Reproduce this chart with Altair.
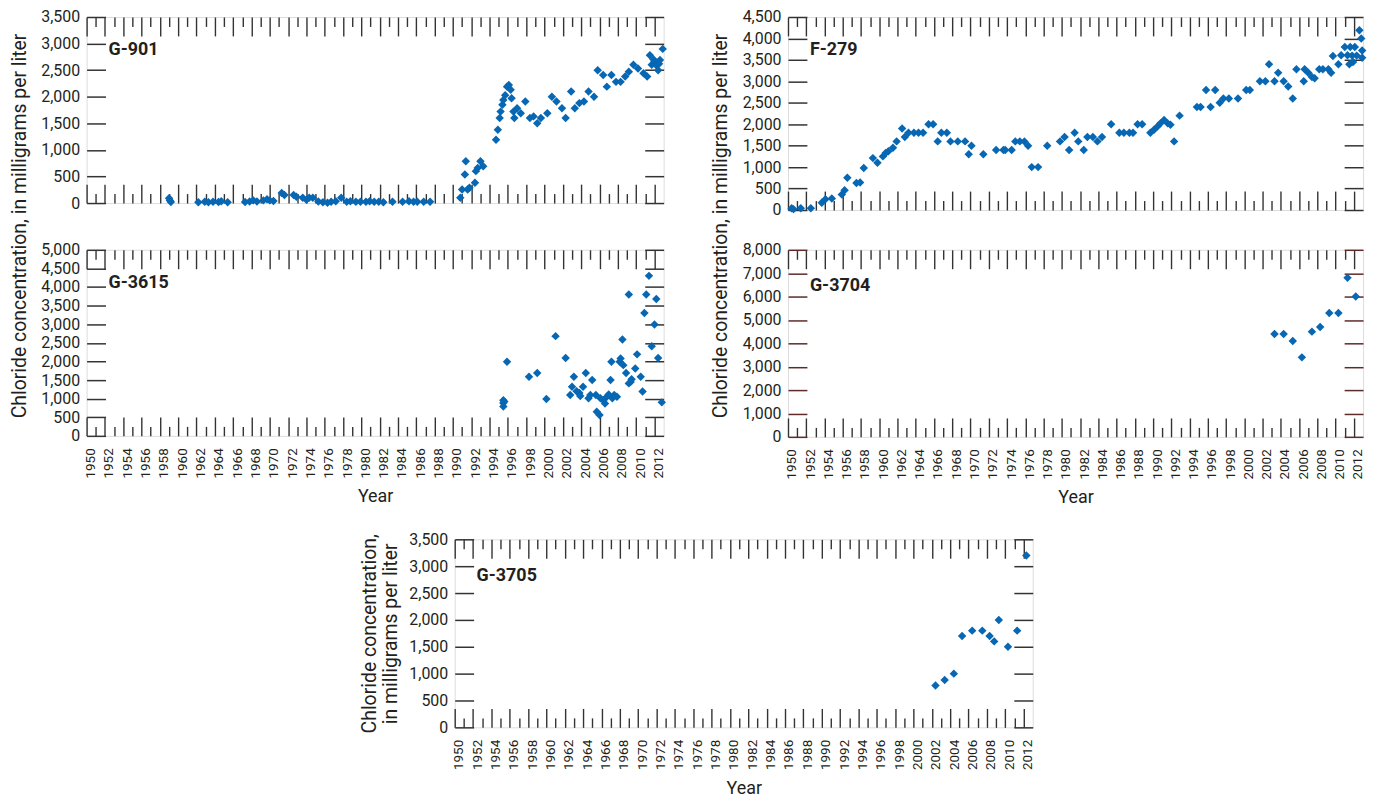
import altair as alt
import pandas as pd

# ---------------- data ----------------
g901_year = [1959.0, 1959.1, 1959.2, 1962.2, 1962.9, 1963.3, 1963.8, 1964.4, 1964.7, 1965.4,
             1967.3, 1967.8, 1968.2, 1968.6, 1969.3, 1969.7, 1970.0, 1970.4, 1971.3, 1971.6,
             1972.6, 1972.9, 1973.6, 1974.0, 1974.3, 1974.7, 1975.3, 1975.8, 1976.3, 1976.7,
             1977.2, 1977.8, 1978.4, 1978.8, 1979.4, 1979.9, 1980.5, 1980.9, 1981.4, 1981.9,
             1982.4, 1983.4, 1984.5, 1985.2, 1985.7, 1986.1, 1986.8, 1987.5,
             1990.8, 1991.0, 1991.3, 1991.4, 1991.6, 1991.8, 1992.4, 1992.5, 1992.7, 1993.0,
             1993.3, 1994.7, 1994.9, 1995.1, 1995.2, 1995.4, 1995.5, 1995.7, 1995.9, 1996.1,
             1996.3, 1996.4, 1996.6, 1996.7, 1997.0, 1997.4, 1997.9, 1998.4, 1998.8, 1999.2,
             1999.6, 2000.3, 2000.8, 2001.3, 2001.9, 2002.3, 2002.9, 2003.3, 2003.8, 2004.3,
             2004.8, 2005.4, 2005.8, 2006.4, 2006.8, 2007.3, 2007.8, 2008.3, 2008.8, 2009.2,
             2009.7, 2010.2, 2010.8, 2011.2, 2011.5, 2011.7, 2011.9, 2012.0, 2012.2, 2012.4,
             2012.5, 2012.6, 2012.9]
g901_value = [90, 50, 20, 15, 25, 15, 25, 20, 35, 15,
              20, 30, 50, 30, 50, 70, 50, 40, 190, 150,
              150, 120, 100, 60, 100, 100, 30, 15, 5, 25,
              35, 100, 25, 35, 25, 25, 25, 35, 25, 25,
              15, 25, 25, 35, 25, 25, 25, 25,
              100, 256, 537, 786, 256, 287, 380, 600, 660, 786,
              693, 1190, 1380, 1600, 1720, 1850, 1940, 2030, 2190, 2220,
              2130, 1970, 1720, 1600, 1785, 1690, 1910, 1600, 1630, 1500,
              1600, 1690, 2000, 1910, 1785, 1600, 2100, 1785, 1880, 1910,
              2100, 2000, 2500, 2410, 2190, 2410, 2280, 2280, 2380, 2470,
              2600, 2530, 2440, 2380, 2780, 2600, 2700, 2660, 2590, 2500,
              2620, 2690, 2900]

f279_year = [1950.4, 1950.6, 1951.4, 1952.5, 1953.7, 1954.1, 1954.8, 1955.9, 1956.2, 1956.5,
             1957.5, 1957.9, 1958.3, 1959.3, 1959.8, 1960.4, 1960.7, 1961.0, 1961.5, 1961.9,
             1962.5, 1962.8, 1963.2, 1963.8, 1964.3, 1964.8, 1965.4, 1965.9, 1966.4, 1966.8,
             1967.4, 1967.8, 1968.6, 1969.4, 1969.8, 1970.1, 1971.4, 1972.8, 1973.6, 1973.8,
             1974.5, 1974.9, 1975.4, 1975.9, 1976.3, 1976.7, 1977.4, 1978.4, 1979.8, 1980.3,
             1980.8, 1981.4, 1981.8, 1982.4, 1982.8, 1983.4, 1983.9, 1984.4, 1985.4, 1986.3,
             1986.8, 1987.4, 1987.8, 1988.3, 1988.8, 1989.7, 1990.1, 1990.5, 1990.8, 1991.2,
             1991.6, 1991.9, 1992.3, 1992.9, 1994.8, 1995.2, 1995.8, 1996.3, 1996.8, 1997.3,
             1997.7, 1998.3, 1999.3, 2000.2, 2000.6, 2001.7, 2002.3, 2002.7, 2003.3, 2003.7,
             2004.3, 2004.8, 2005.3, 2005.7, 2006.5, 2006.6, 2007.0, 2007.4, 2007.7, 2008.2,
             2008.6, 2009.2, 2009.5, 2009.7, 2010.3, 2010.6, 2011.0, 2011.3, 2011.5, 2011.6,
             2011.8, 2011.9, 2012.1, 2012.3, 2012.6, 2012.8, 2012.9, 2012.9]
f279_value = [40, 20, 40, 40, 170, 250, 270, 360, 460, 750,
              630, 640, 980, 1210, 1100, 1250, 1330, 1370, 1450, 1600,
              1900, 1700, 1800, 1800, 1800, 1800, 2000, 2000, 1600, 1800,
              1800, 1600, 1600, 1600, 1300, 1500, 1300, 1400, 1400, 1400,
              1400, 1600, 1600, 1600, 1500, 1000, 1000, 1500, 1600, 1700,
              1400, 1800, 1600, 1400, 1700, 1700, 1600, 1700, 2000, 1800,
              1800, 1800, 1800, 2000, 2000, 1800, 1870, 1950, 2020, 2100,
              2020, 1990, 1600, 2200, 2400, 2400, 2800, 2400, 2800, 2500,
              2600, 2600, 2600, 2800, 2800, 3000, 3000, 3400, 3000, 3200,
              3000, 2880, 2600, 3280, 3000, 3280, 3200, 3100, 3070, 3280,
              3280, 3280, 3200, 3590, 3400, 3610, 3800, 3610, 3400, 3800,
              3600, 3450, 3800, 3600, 4190, 4000, 3720, 3550]

g3615_year = [1995.5, 1995.5, 1995.5, 1995.6, 1995.9, 1998.3, 1999.2, 2000.2, 2001.2, 2002.3,
              2002.8, 2003.0, 2003.2, 2003.5, 2003.8, 2003.9, 2004.2, 2004.5, 2004.8, 2005.0,
              2005.2, 2005.6, 2005.7, 2006.0, 2006.1, 2006.4, 2006.6, 2006.8, 2007.0, 2007.2,
              2007.3, 2007.4, 2007.6, 2007.9, 2008.2, 2008.3, 2008.5, 2008.6, 2008.9, 2009.2,
              2009.2, 2009.4, 2009.5, 2009.9, 2010.1, 2010.5, 2010.7, 2010.9, 2011.1, 2011.4,
              2011.7, 2012.0, 2012.2, 2012.4, 2012.8]
g3615_value = [960, 880, 790, 920, 1990, 1590, 1690, 990, 2680, 2090,
               1100, 1320, 1590, 1200, 1150, 1070, 1320, 1690, 1010, 1100,
               1500, 1100, 650, 560, 1010, 960, 870, 1050, 1110, 1500,
               1990, 1010, 1100, 1050, 1990, 2080, 2590, 1900, 1690, 3800,
               1410, 1450, 1520, 1810, 2190, 1590, 1190, 3300, 3800, 4300,
               2410, 2990, 3680, 2090, 900]

g3704_year = [2003.3, 2004.3, 2005.3, 2006.3, 2007.4, 2008.3, 2009.3, 2010.3, 2011.3, 2012.2]
g3704_value = [4400, 4400, 4100, 3400, 4500, 4700, 5300, 5300, 6800, 6000]

g3705_year = [2002.4, 2003.4, 2004.4, 2005.3, 2006.4, 2007.5, 2008.3, 2008.8, 2009.3, 2010.3,
              2011.3, 2012.3]
g3705_value = [780, 880, 1000, 1700, 1800, 1800, 1700, 1600, 2000, 1500, 1800, 3200]

well_names = ["G-901", "F-279", "G-3615", "G-3704", "G-3705"]
y_title = "Chloride concentration, in milligrams per liter"
y_title_lines = ["Chloride concentration,", "in milligrams per liter"]
x_title = "Year"

# ---------------- styling ----------------
FONT = "Roboto, Liberation Sans, sans-serif"
BLUE = "#0867b3"
INK = "#231f20"
TICKC = "#333333"
BROWN = "#5e2a2a"
X_DOMAIN = [1950, 2013]
MAJOR = list(range(1950, 2013, 2))
MINOR = list(range(1951, 2013, 2))
BIG, SMALL = 19, 9.5


def x_axis(orient, values, size, labels, title):
    kw = dict(orient=orient, values=values, offset=-size, tickSize=size, tickColor=TICKC,
              tickWidth=1.4, domain=False, grid=False, labels=labels)
    if labels:
        kw.update(labelAngle=270, labelAlign="right", labelBaseline="middle", labelPadding=12,
                  labelOffset=4, labelFont=FONT, labelFontSize=13.5, labelColor=INK,
                  labelOverlap=False, labelFlush=False, format="d")
    if title:
        kw.update(title=title, titleFont=FONT, titleFontSize=18, titleFontWeight="normal",
                  titleColor=INK, titlePadding=10)
    else:
        kw.update(title=None)
    return alt.Axis(**kw)


def y_axis(orient, values, labels, color):
    kw = dict(orient=orient, values=values, offset=-BIG, tickSize=BIG, tickColor=color,
              tickWidth=1.5, domain=False, grid=False, labels=labels, title=None)
    if labels:
        kw.update(labelFont=FONT, labelFontSize=16, labelColor=INK, labelPadding=7,
                  labelOverlap=False, labelFlush=False, format=",d")
    return alt.Axis(**kw)


def text_layer(txt, x, y, **mk):
    return alt.Chart(pd.DataFrame({"t": [txt]})).mark_text(font=FONT, color=INK, **mk).encode(
        x=alt.value(x), y=alt.value(y), text="t:N")


def panel(years, values, name, ymax, ystep, w, h, show_x, ytick=TICKC, name_y=38, extra=()):
    df = pd.DataFrame({"year": years, "value": values})
    xs = alt.Scale(domain=X_DOMAIN, nice=False, zero=False)
    ys = alt.Scale(domain=[0, ymax], nice=False)
    yv = list(range(0, ymax + 1, ystep))
    base = alt.Chart(df)
    pts = base.mark_point(shape="diamond", filled=True, size=72, color=BLUE, opacity=1).encode(
        x=alt.X("year:Q", scale=xs, axis=x_axis("bottom", MAJOR, BIG, show_x, x_title if show_x else None)),
        y=alt.Y("value:Q", scale=ys, axis=y_axis("left", yv, True, ytick)))
    l2 = base.mark_point(opacity=0).encode(
        x=alt.X("year:Q", scale=xs, axis=x_axis("bottom", MINOR, SMALL, False, None)),
        y=alt.Y("value:Q", scale=ys, axis=y_axis("right", yv, False, ytick)))
    l3 = base.mark_point(opacity=0).encode(
        x=alt.X("year:Q", scale=xs, axis=x_axis("top", MAJOR, BIG, False, None)),
        y=alt.Y("value:Q", scale=ys, axis=None))
    l4 = base.mark_point(opacity=0).encode(
        x=alt.X("year:Q", scale=xs, axis=x_axis("top", MINOR, SMALL, False, None)),
        y=alt.Y("value:Q", scale=ys, axis=None))
    lbl = text_layer(name, 22, name_y, fontSize=18, fontWeight="bold", align="left",
                     baseline="alphabetic")
    return alt.layer(pts, l2, l3, l4, lbl, *extra).resolve_axis(
        x="independent", y="independent").properties(width=w, height=h)


TS = 19.5
ytA = text_layer(y_title, -61, 210, fontSize=TS, angle=270, align="center", baseline="alphabetic")
ytB = text_layer(y_title, -61, 210, fontSize=TS, angle=270, align="center", baseline="alphabetic")
ytE1 = text_layer(y_title_lines[0], -79, 95, fontSize=TS, angle=270, align="center", baseline="alphabetic")
ytE2 = text_layer(y_title_lines[1], -58, 95, fontSize=TS, angle=270, align="center", baseline="alphabetic")

A = panel(g901_year, g901_value, well_names[0], 3500, 500, 580, 187, False, extra=(ytA,))
B = panel(f279_year, f279_value, well_names[1], 4500, 500, 578, 194, False, extra=(ytB,))
C = panel(g3615_year, g3615_value, well_names[2], 5000, 500, 580, 187, True)
D = panel(g3704_year, g3704_value, well_names[3], 8000, 1000, 578, 188, True, ytick=BROWN, name_y=41)
E = panel(g3705_year, g3705_value, well_names[4], 3500, 500, 581, 189, True, name_y=42,
          extra=(ytE1, ytE2))

spacer = alt.Chart(pd.DataFrame({"a": [0]})).mark_point(opacity=0).encode(
    x=alt.X("a:Q", axis=None), y=alt.Y("a:Q", axis=None)).properties(
    width=370, height=10, view=alt.ViewBackground(strokeOpacity=0))

colL = alt.vconcat(A, C, spacing=47, bounds="flush")
colR = alt.vconcat(B, D, spacing=40, bounds="flush")
top = alt.hconcat(colL, colR, spacing=43)
row3 = alt.hconcat(spacer, E, spacing=0, bounds="flush")

chart = alt.vconcat(top, row3, spacing=23).properties(
    padding={"left": 1, "top": -2, "right": 5, "bottom": 5}
).configure_view(stroke=TICKC, strokeWidth=1.5).configure(font=FONT)

chart.save("out.html", embed_options={"renderer": "svg", "actions": False})
